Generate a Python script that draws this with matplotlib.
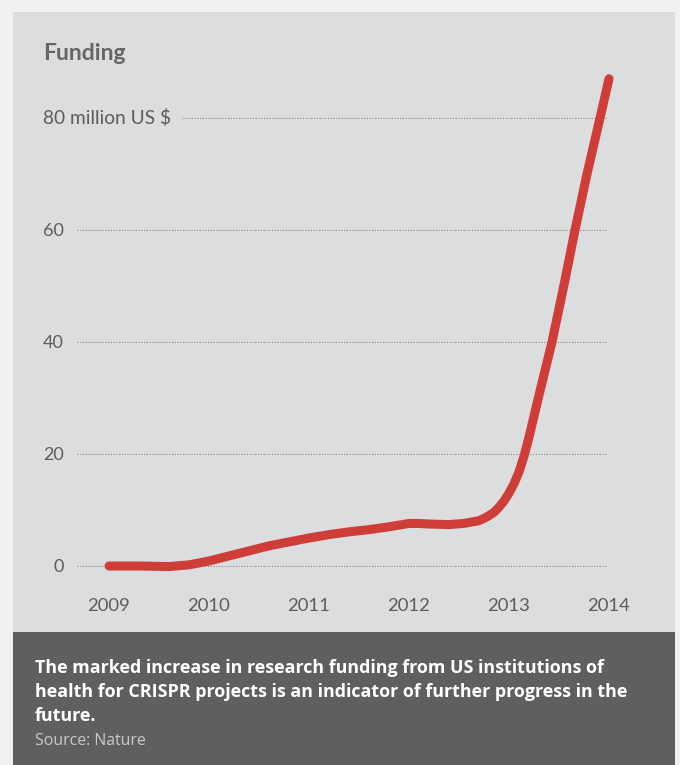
import matplotlib
matplotlib.use('Agg')
import matplotlib.pyplot as plt
from matplotlib.patches import Rectangle

plt.rcParams['font.family'] = ['Lato', 'DejaVu Sans']

# ─── Data ─────────────────────────────────────────────────────────
years = [2009.0, 2009.3, 2009.6, 2009.8, 2010.0, 2010.2, 2010.4, 2010.6,
         2010.8, 2011.0, 2011.2, 2011.4, 2011.6, 2011.8, 2012.0, 2012.1,
         2012.2, 2012.4, 2012.55, 2012.7, 2012.75, 2012.8, 2012.85, 2012.9,
         2012.95, 2013.0, 2013.05, 2013.1, 2013.15, 2013.2, 2013.3, 2013.43,
         2013.55, 2013.66, 2013.78, 2013.91, 2014.0]
funding = [0.0, 0.0, -0.1, 0.2, 0.9, 1.8, 2.7, 3.6,
           4.3, 5.0, 5.6, 6.1, 6.5, 7.0, 7.6, 7.6,
           7.5, 7.4, 7.6, 8.1, 8.5, 9.0, 9.6, 10.5,
           11.6, 13.0, 14.7, 16.8, 19.6, 23.0, 30.5, 40.0,
           50.2, 60.0, 70.0, 80.0, 87.0]
year_ticks = [2009, 2010, 2011, 2012, 2013, 2014]
y_ticks = [0, 20, 40, 60, 80]
y_labels = ['0', '20', '40', '60', '80 million US $']

# ─── Colours ──────────────────────────────────────────────────────
C_OUT = '#f0f1f0'
C_PANEL = '#dcdddf'
C_CAP = '#5f5f61'
C_RED = '#cf3d38'
C_TEXT = '#5c5c5e'
C_GRID = '#8a8a8c'

W, H = 680, 765
fig = plt.figure(figsize=(W / 100, H / 100), dpi=100)
fig.patch.set_facecolor(C_OUT)

def px(x, y):
    return x / W, 1 - y / H

# panels
fig.patches.append(Rectangle(px(13, 632), 662 / W, 620 / H, transform=fig.transFigure,
                             facecolor=C_PANEL, edgecolor='none', zorder=-2))
fig.patches.append(Rectangle(px(13, 765), 662 / W, 133 / H, transform=fig.transFigure,
                             facecolor=C_CAP, edgecolor='none', zorder=-2))

# axes: x px 77..609, y px 70..580
ax = fig.add_axes([77 / W, 1 - 580 / H, 532 / W, 510 / H])
ax.set_zorder(2)
ax.set_facecolor('none')
ax.set_xlim(2008.68, 2014.0)
ax.set_ylim(-2.5, 88.571)
ax.axis('off')

# gridlines + y labels
for v, lab in zip(y_ticks, y_labels):
    x0 = 2009.74 if v == 80 else 2008.68
    ax.hlines(v, x0, 2013.98, colors=C_GRID, linestyles=(0, (1, 1.5)), lw=0.8, zorder=1)
    xl = 2009.62 if v == 80 else 2008.55
    fs = 13.8 if v == 80 else 13
    ax.text(xl, v - 1.16, lab, ha='right', va='baseline', fontsize=fs,
            color=C_TEXT, clip_on=False)

for yr in year_ticks:
    ax.text(yr, -7.98, str(yr), ha='center', va='baseline', fontsize=13.3,
            color=C_TEXT, clip_on=False)

ax.plot(years, funding, color=C_RED, lw=6.5, solid_capstyle='round',
        solid_joinstyle='round', clip_on=False, zorder=3)

# title
fig.text(*px(43, 60), 'Funding', fontsize=16.5, fontweight='bold', color='#666668',
         ha='left', va='baseline')

# caption
cap_lines = ['The marked increase in research funding from US institutions of',
             'health for CRISPR projects is an indicator of further progress in the',
             'future.']
for i, line in enumerate(cap_lines):
    fig.text(*px(35, 672.7 + 24 * i), line, fontsize=12.85, fontweight='bold',
             family=['Open Sans', 'DejaVu Sans'], color='white', ha='left', va='baseline')
fig.text(*px(35, 745), 'Source: Nature', fontsize=11.4, family=['Open Sans', 'DejaVu Sans'],
         color='#c9c9cb', ha='left', va='baseline')

plt.savefig('out.png', dpi=100, facecolor=fig.get_facecolor())
plt.close()
